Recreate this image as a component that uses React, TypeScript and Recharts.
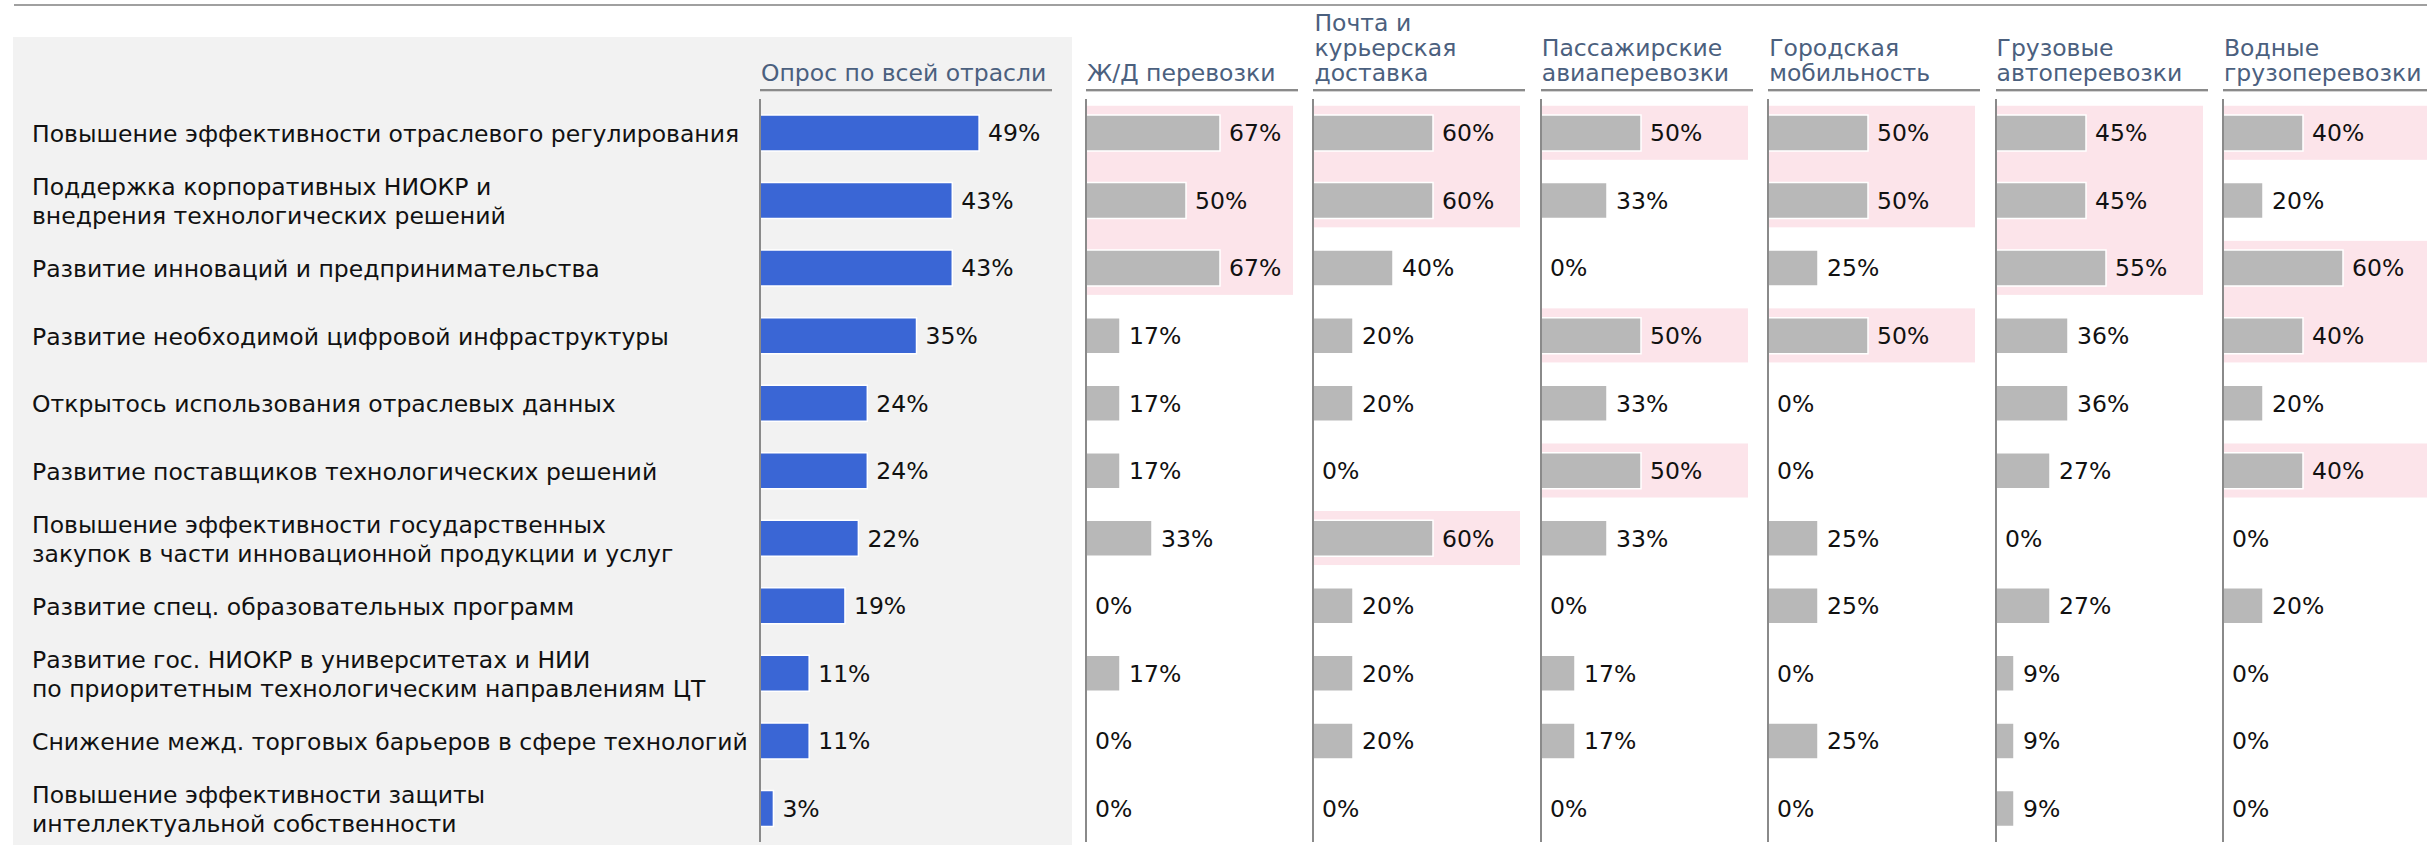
import { BarChart, Bar, XAxis, YAxis, ReferenceArea, LabelList, Rectangle } from "recharts";

const FONT = '"DejaVu Sans", Verdana, sans-serif';

// row categories (line breaks as in the source)
const measures = [
  "Повышение эффективности отраслевого регулирования",
  "Поддержка корпоративных НИОКР и\nвнедрения технологических решений",
  "Развитие инноваций и предпринимательства",
  "Развитие необходимой цифровой инфраструктуры",
  "Открытось использования отраслевых данных",
  "Развитие поставщиков технологических решений",
  "Повышение эффективности государственных\nзакупок в части инновационной продукции и услуг",
  "Развитие спец. образовательных программ",
  "Развитие гос. НИОКР в университетах и НИИ\nпо приоритетным технологическим направлениям ЦТ",
  "Снижение межд. торговых барьеров в сфере технологий",
  "Повышение эффективности защиты\nинтеллектуальной собственности",
];

const overallTitle = "Опрос по всей отрасли";
const overall = [49, 43, 43, 35, 24, 24, 22, 19, 11, 11, 3];

const sectorTitles = [
  "Ж/Д перевозки",
  "Почта и\nкурьерская\nдоставка",
  "Пассажирские\nавиаперевозки",
  "Городская\nмобильность",
  "Грузовые\nавтоперевозки",
  "Водные\nгрузоперевозки",
];
const rail = [67, 50, 67, 17, 17, 17, 33, 0, 17, 0, 0];
const post = [60, 60, 40, 20, 20, 0, 60, 20, 20, 20, 0];
const air = [50, 33, 0, 50, 33, 50, 33, 0, 17, 17, 0];
const urban = [50, 50, 25, 50, 0, 0, 25, 25, 0, 25, 0];
const truck = [45, 45, 55, 36, 36, 27, 0, 27, 9, 9, 9];
const water = [40, 20, 60, 40, 20, 40, 0, 20, 0, 0, 0];
const sectors = [rail, post, air, urban, truck, water];

const CHART_H = 846;
const FS = 23.5;
const MARGIN = { top: 99, bottom: 4 };
const SECTOR_X0 = 1086;
const SECTOR_STEP = 227.4;

// top-3 values (ties included) get the pink highlight; adjacent rows merge
function topRuns(values: number[]) {
  const third = [...values].sort((a, b) => b - a)[2];
  const runs: [number, number][] = [];
  values.forEach((v, i) => {
    if (v < third) return;
    const last = runs[runs.length - 1];
    if (last && last[1] === i - 1) last[1] = i;
    else runs.push([i, i]);
  });
  return runs;
}

// eslint-disable-next-line @typescript-eslint/no-explicit-any
function RowTick({ y, payload }: any) {
  const lines = String(payload.value).split("\n");
  const lh = 28.5;
  const start = y - ((lines.length - 1) * lh) / 2;
  return (
    <text fill="#111" fontSize={FS} fontFamily={FONT} textAnchor="start">
      {lines.map((l, i) => (
        <tspan key={i} x={32} y={start + i * lh} dy="0.4em">
          {l}
        </tspan>
      ))}
    </text>
  );
}

// zero values keep their label but draw no rectangle
// eslint-disable-next-line @typescript-eslint/no-explicit-any
function BarShape(props: any) {
  if (!props.width || props.width < 0.5) return <g />;
  return <Rectangle {...props} />;
}

// highlight spans whole bands; trim 10% of a band off each end of the run
function highlightShape(rows: number) {
  // eslint-disable-next-line @typescript-eslint/no-explicit-any
  return (p: any) => {
    const inset = (p.height / rows) * 0.1;
    return <rect x={p.x} y={p.y + inset} width={p.width} height={p.height - 2 * inset} fill="#fce4ea" />;
  };
}

function Header({ title, left, width }: { title: string; left: number; width: number }) {
  return (
    <>
      <div
        style={{
          position: "absolute",
          left: left + 1,
          bottom: CHART_H - 86.3,
          color: "#4b607e",
          fontFamily: FONT,
          fontSize: FS,
          lineHeight: "25px",
          whiteSpace: "pre",
        }}
      >
        {title}
      </div>
      <div
        style={{
          position: "absolute",
          left,
          top: 89,
          width,
          height: 2,
          background: "#8a8a8a",
          boxShadow: "0 1px 0 #d4d4d4",
        }}
      />
    </>
  );
}

const labelProps = {
  position: "right" as const,
  offset: 9,
  fill: "#111",
  fontSize: FS,
  fontFamily: FONT,
  formatter: (v: unknown) => `${v}%`,
};

function OverallChart() {
  const data = measures.map((name, i) => ({ name, v: overall[i] }));
  return (
    <div style={{ position: "absolute", left: 0, top: 0 }}>
      <BarChart
        layout="vertical"
        width={1072}
        height={CHART_H}
        data={data}
        margin={{ top: MARGIN.top, bottom: MARGIN.bottom, left: 0, right: 20 }}
      >
        <XAxis type="number" domain={[0, 65.3]} hide />
        <YAxis
          type="category"
          dataKey="name"
          width={760}
          tick={<RowTick />}
          tickLine={false}
          axisLine={{ stroke: "#8a8a8a", strokeWidth: 2 }}
          interval={0}
        />
        <Bar dataKey="v" fill="#3a66d5" stroke="#fff" strokeWidth={1.5} barSize={36} isAnimationActive={false}>
          <LabelList dataKey="v" {...labelProps} />
        </Bar>
      </BarChart>
    </div>
  );
}

function SectorChart({ values, left }: { values: number[]; left: number }) {
  const data = measures.map((name, i) => ({ name, v: values[i] }));
  const runs = topRuns(values);
  return (
    <div style={{ position: "absolute", left: left - 2, top: 0 }}>
      <BarChart
        layout="vertical"
        width={227}
        height={CHART_H}
        data={data}
        margin={{ top: MARGIN.top, bottom: MARGIN.bottom, left: 0, right: 18 }}
      >
        <XAxis type="number" domain={[0, 103.5]} hide />
        <YAxis
          type="category"
          dataKey="name"
          width={2}
          tick={false}
          tickLine={false}
          axisLine={{ stroke: "#8a8a8a", strokeWidth: 2 }}
        />
        {runs.map(([a, b]) => (
          <ReferenceArea
            key={a}
            y1={measures[a]}
            y2={measures[b]}
            fill="#fce4ea"
            fillOpacity={1}
            stroke="none"
            shape={highlightShape(b - a + 1)}
          />
        ))}
        <Bar
          dataKey="v"
          fill="#b8b8b8"
          stroke="#fff"
          strokeWidth={1.5}
          barSize={36}
          minPointSize={0.01}
          shape={BarShape}
          isAnimationActive={false}
        >
          <LabelList dataKey="v" {...labelProps} />
        </Bar>
      </BarChart>
    </div>
  );
}

export default function App() {
  return (
    <div
      style={{
        position: "absolute",
        left: 0,
        top: 0,
        width: 2427,
        height: CHART_H,
        overflow: "hidden",
        background: "#fff",
      }}
    >
      <div style={{ position: "absolute", left: 14, top: 4, width: 2413, height: 2, background: "#a0a0a0" }} />
      <div style={{ position: "absolute", left: 13, top: 37, width: 1059, height: 808, background: "#f2f2f2" }} />
      <Header title={overallTitle} left={760} width={292} />
      {sectorTitles.map((t, i) => (
        <Header key={t} title={t} left={SECTOR_X0 + i * SECTOR_STEP} width={212} />
      ))}
      <OverallChart />
      {sectors.map((vals, i) => (
        <SectorChart key={i} values={vals} left={SECTOR_X0 + i * SECTOR_STEP} />
      ))}
    </div>
  );
}
